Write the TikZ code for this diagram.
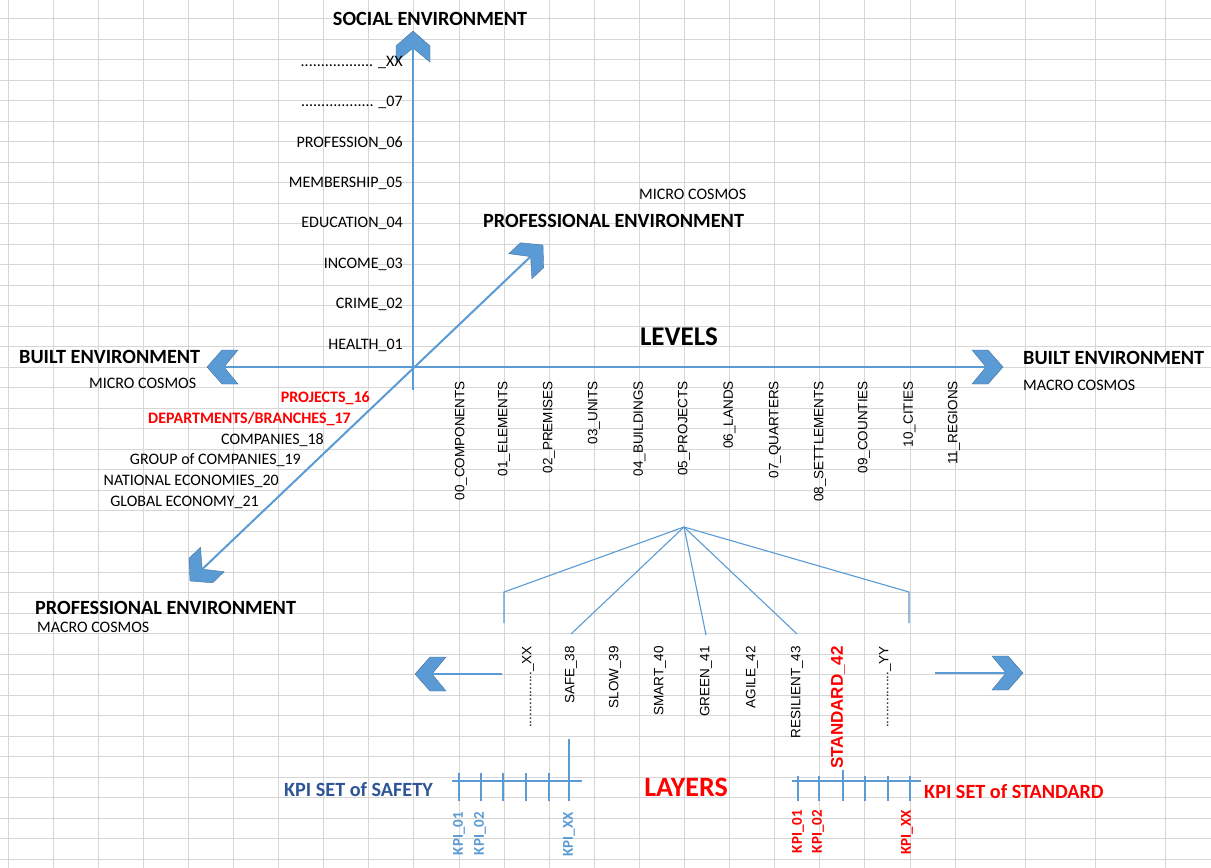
\documentclass[tikz,border=0pt]{standalone}
\usepackage{fontspec}
\setmainfont{Carlito}
\newfontfamily\arialfont{Liberation Sans}
\usepackage{xcolor}
\definecolor{axisblue}{HTML}{5B9BD5}
\definecolor{edgeblue}{HTML}{41719C}
\definecolor{darkblue}{HTML}{2F5597}
\definecolor{gridgray}{HTML}{D6D6D6}
\tikzset{
	lbl/.style={inner sep=0pt,font=\fontsize{16}{18}\selectfont},
	redlbl/.style={inner sep=0pt,text=red,font=\fontsize{16}{18}\selectfont\bfseries},
	title/.style={inner sep=0pt,font=\fontsize{20.2}{24}\selectfont\bfseries},
	vlbl/.style={inner sep=0pt,rotate=90,anchor=east,font=\arialfont\fontsize{13.5}{16}\selectfont},
	kpi/.style={inner sep=0pt,rotate=90,anchor=east,font=\fontsize{15}{18}\selectfont\bfseries},
	gridline/.style={draw=gridgray,line width=0.9pt},
	axis/.style={draw=axisblue,line width=2pt},
	fan/.style={draw=axisblue,line width=1.1pt},
	chev/.style={fill=axisblue,draw=edgeblue,line width=0.4pt},
	chevron/.pic={
		\filldraw[chev] (0,0) -- (-15,17) -- (-31,17) -- (-17,0) -- (-31,-17) -- (-15,-17) -- cycle;
		\coordinate (-notch) at (-17,0);
	}
}

\begin{document}
\begin{tikzpicture}[x=1pt,y=-1pt]
	\useasboundingbox (0,0) rectangle (1211,868);
	\fill[white] (0,0) rectangle (1211,868);
	% sheet grid
	\foreach \i in {0,...,21}
		\draw[gridline] ({8+45.1*\i},0) -- ({8+45.1*\i},868);
	\foreach \gx in {1025,1095,1165}
		\draw[gridline] (\gx,0) -- (\gx,868);
	\foreach \i in {1,...,42}
		\draw[gridline] (0,{-2+20.5*\i}) -- (1211,{-2+20.5*\i});

	% axes
	\pic[rotate=90] (up) at (413,31) {chevron};
	\pic[rotate=180] (left) at (207,367) {chevron};
	\pic[rotate=0] (right) at (1003,367) {chevron};
	\pic[rotate=43] (ne) at (543,245) {chevron};
	\pic[rotate=224] (sw) at (190,581) {chevron};
	\coordinate (vbottom) at (413,390);
	\draw[axis] (vbottom) -- (up-notch);
	\draw[axis] (left-notch) -- (right-notch);
	\draw[axis] (sw-notch) -- (ne-notch);

	% titles
	\node[title] (social) at (430,19) {SOCIAL ENVIRONMENT};
	\node[title,anchor=west] (profup) at (483,221) {PROFESSIONAL ENVIRONMENT};
	\node[lbl,anchor=west] (microup) at (639,194) {MICRO COSMOS};
	\node[title,anchor=west] (builtl) at (19,357) {BUILT ENVIRONMENT};
	\node[lbl,anchor=west] (microl) at (89,383) {MICRO COSMOS};
	\node[title,anchor=west] (builtr) at (1023,358) {BUILT ENVIRONMENT};
	\node[lbl,anchor=west] (macror) at (1023,385) {MACRO COSMOS};
	\node[title,anchor=west] (proflow) at (35,608) {PROFESSIONAL ENVIRONMENT};
	\node[lbl,anchor=west] (macrolow) at (37,627) {MACRO COSMOS};
	\node[inner sep=0pt,font=\fontsize{27}{30}\selectfont\bfseries] (levels) at (679,337) {LEVELS};

	% social scale
	\node[lbl,anchor=east] (socxx) at (403,62) {.................. \_XX};
	\node[lbl,anchor=east] (soc07) at (403,102.5) {.................. \_07};
	\node[lbl,anchor=east] (profession) at (403,143) {PROFESSION\_06};
	\node[lbl,anchor=east] (membership) at (403,183) {MEMBERSHIP\_05};
	\node[lbl,anchor=east] (education) at (403,223.5) {EDUCATION\_04};
	\node[lbl,anchor=east] (income) at (403,264) {INCOME\_03};
	\node[lbl,anchor=east] (crime) at (403,304.5) {CRIME\_02};
	\node[lbl,anchor=east] (health) at (403,345) {HEALTH\_01};

	% professional scale
	\node[redlbl,anchor=east] (projects) at (370,398) {PROJECTS\_16};
	\node[redlbl,anchor=east] (departments) at (351,419) {DEPARTMENTS/BRANCHES\_17};
	\node[lbl,anchor=east] (companies) at (324,440) {COMPANIES\_18};
	\node[lbl,anchor=east] (group) at (301,460.5) {GROUP of COMPANIES\_19};
	\node[lbl,anchor=east] (national) at (279,481.5) {NATIONAL ECONOMIES\_20};
	\node[lbl,anchor=east] (global) at (259,502.5) {GLOBAL ECONOMY\_21};

	% built scale
	\node[vlbl] (lev00) at (461,381) {00\_COMPONENTS};
	\node[vlbl] (lev01) at (504,381) {01\_ELEMENTS};
	\node[vlbl] (lev02) at (549,381) {02\_PREMISES};
	\node[vlbl] (lev03) at (594,381) {03\_UNITS};
	\node[vlbl] (lev04) at (639.5,381) {04\_BUILDINGS};
	\node[vlbl] (lev05) at (684,381) {05\_PROJECTS};
	\node[vlbl] (lev06) at (729.5,381) {06\_LANDS};
	\node[vlbl] (lev07) at (775,381) {07\_QUARTERS};
	\node[vlbl] (lev08) at (820,381) {08\_SETTLEMENTS};
	\node[vlbl] (lev09) at (864,381) {09\_COUNTIES};
	\node[vlbl] (lev10) at (909.5,381) {10\_CITIES};
	\node[vlbl] (lev11) at (954,381) {11\_REGIONS};

	% layers
	\node[vlbl] (layxx) at (528,646) {...............\_XX};
	\node[vlbl] (safe) at (571,646) {SAFE\_38};
	\node[vlbl] (slow) at (615,646) {SLOW\_39};
	\node[vlbl] (smart) at (660,646) {SMART\_40};
	\node[vlbl] (green) at (706,646) {GREEN\_41};
	\node[vlbl] (agile) at (752,646) {AGILE\_42};
	\node[vlbl] (resilient) at (797,646) {RESILIENT\_43};
	\node[vlbl,text=red,font=\arialfont\fontsize{17}{20}\selectfont\bfseries] (standard) at (838,646) {STANDARD\_42};
	\node[vlbl] (layyy) at (885,646) {...............\_YY};
	\node[inner sep=0pt,text=red,font=\fontsize{28}{32}\selectfont\bfseries] (layers) at (686,787) {LAYERS};

	\coordinate (apex) at (684,527);
	\coordinate (fanl) at (504,592);
	\coordinate (fanlend) at (504,623);
	\coordinate (fanr) at (909,592);
	\coordinate (fanrend) at (909,623);
	\draw[fan] (fanlend) -- (fanl) -- (apex) -- (fanr) -- (fanrend);
	\draw[fan] (apex) -- ([yshift=12pt]safe.east);
	\draw[fan] (apex) -- ([yshift=11pt]green.east);
	\draw[fan] (apex) -- ([yshift=12pt]resilient.east);

	\pic[rotate=180] (bl) at (415,674) {chevron};
	\pic[rotate=0] (br) at (1023,673) {chevron};
	\coordinate (blstart) at (502,674);
	\coordinate (brstart) at (935,673);
	\draw[fan] (blstart) -- (bl-notch);
	\draw[fan] (brstart) -- (br-notch);

	% KPI sets
	\node[title,text=darkblue,anchor=east] (setsafe) at (433,790) {KPI SET of SAFETY};
	\coordinate (ksl) at (452,781);
	\coordinate (ksr) at (582,781);
	\draw[fan] (ksl) -- (ksr);
	\foreach \x in {459,481,503,526,549}
		\draw[fan] (\x,773) -- (\x,801);
	\coordinate (kstop) at (569,739);
	\coordinate (ksbot) at (569,801);
	\draw[fan] (kstop) -- (ksbot);
	\node[kpi,text=axisblue] (ks01) at (459,812) {KPI\_01};
	\node[kpi,text=axisblue] (ks02) at (480,812) {KPI\_02};
	\node[kpi,text=axisblue] (ksxx) at (569,812) {KPI\_XX};

	\node[title,text=red,anchor=west] (setstd) at (924,792) {KPI SET of STANDARD};
	\coordinate (kdl) at (792,781);
	\coordinate (kdr) at (921,781);
	\draw[fan] (kdl) -- (kdr);
	\foreach \x in {798,819,865,888,910}
		\draw[fan] (\x,776) -- (\x,801);
	\coordinate (kdtop) at (843,770);
	\coordinate (kdbot) at (843,801);
	\draw[fan] (kdtop) -- (kdbot);
	\node[kpi,text=red] (kd01) at (798,810) {KPI\_01};
	\node[kpi,text=red] (kd02) at (818,810) {KPI\_02};
	\node[kpi,text=red] (kdxx) at (907,810) {KPI\_XX};
\end{tikzpicture}
\end{document}
